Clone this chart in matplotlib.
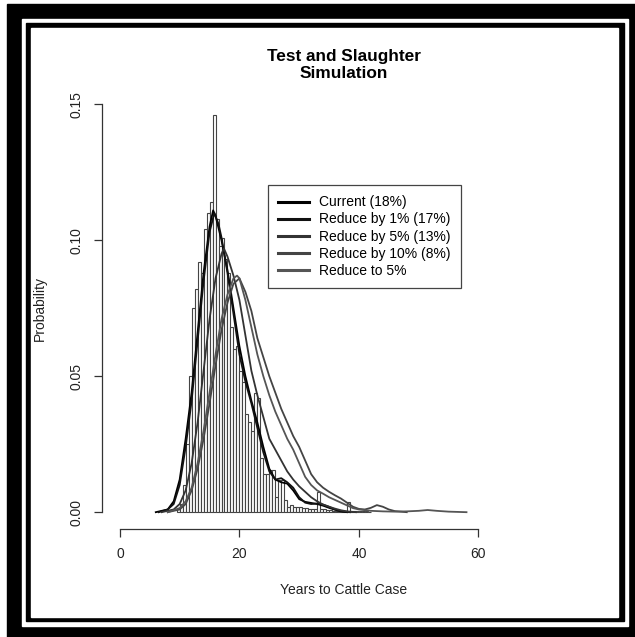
import matplotlib
matplotlib.use("Agg")
import matplotlib.pyplot as plt
from matplotlib.patches import Rectangle
import numpy as np

plt.rcParams['font.family'] = ['Liberation Sans', 'DejaVu Sans']

# histogram (bin width 0.5 years, density)
bin_left = np.arange(9.5, 42.0, 0.5)
bin_height = [0.001, 0.003, 0.010, 0.025, 0.050,
              0.075, 0.082, 0.092, 0.088, 0.104, 0.110, 0.114, 0.146,
              0.108, 0.098, 0.101, 0.093, 0.088, 0.068, 0.060, 0.061,
              0.052, 0.048, 0.036, 0.033, 0.030, 0.044, 0.042, 0.020,
              0.014, 0.014, 0.0155, 0.0155, 0.0055, 0.0118, 0.0118, 0.0044,
              0.002, 0.0025, 0.002, 0.0018, 0.002, 0.0015, 0.0015, 0.001,
              0.0012, 0.001, 0.0074, 0.001, 0.001, 0.0008, 0.0008, 0.0006,
              0.0006, 0.0005, 0.0005, 0.0005, 0.0037, 0.0005, 0.0005, 0.0004,
              0.0004, 0.0003, 0.0003, 0.0002][:len(bin_left)]

# density curves
cur_x = [6, 8, 9, 10, 11, 12, 13, 14, 15, 15.6, 16, 17, 18, 19, 20, 21, 22, 23, 24,
         25, 26, 27, 28, 29, 30, 31, 32, 33, 34, 35, 36, 37, 38]
cur_y = [0, 0.001, 0.004, 0.012, 0.027, 0.044, 0.066, 0.088, 0.105, 0.111, 0.109,
         0.100, 0.089, 0.075, 0.061, 0.050, 0.041, 0.033, 0.024, 0.016, 0.012, 0.011,
         0.0105, 0.008, 0.0048, 0.0038, 0.0034, 0.003, 0.0024, 0.0016, 0.0009, 0.0003, 0]

r1_x = [6.5, 8, 9, 10, 11, 12, 13, 14, 15, 15.8, 16.5, 17, 18, 19, 20, 21, 22, 23, 24,
        25, 26, 27, 28, 29, 30, 31, 32, 33, 34, 35, 36, 37, 38.5]
r1_y = [0, 0.001, 0.003, 0.010, 0.024, 0.041, 0.063, 0.085, 0.103, 0.110, 0.106,
        0.101, 0.088, 0.073, 0.058, 0.048, 0.040, 0.031, 0.022, 0.015, 0.012, 0.0125,
        0.011, 0.009, 0.0055, 0.0035, 0.003, 0.0032, 0.0028, 0.002, 0.001, 0.0004, 0]

r5_x = [7, 9, 10, 11, 12, 13, 14, 15, 16, 17, 17.4, 18, 19, 20, 21, 22, 23, 24, 25,
        26, 27, 28, 29, 30, 31, 32, 33, 34, 35, 36, 37, 38, 39.5]
r5_y = [0, 0.001, 0.003, 0.008, 0.018, 0.033, 0.052, 0.071, 0.086, 0.095, 0.097,
        0.094, 0.087, 0.078, 0.065, 0.052, 0.043, 0.035, 0.027, 0.023, 0.019, 0.015,
        0.012, 0.0095, 0.0075, 0.0055, 0.004, 0.0028, 0.002, 0.0013, 0.0007, 0.0003, 0]

r10_x = [8, 10, 11, 12, 13, 14, 15, 16, 17, 18, 19, 20, 21, 22, 23, 24, 25, 26, 27,
         28, 29, 30, 31, 32, 33, 34, 35, 36, 37, 38, 39, 40, 41, 42, 43, 44, 45, 46, 48]
r10_y = [0, 0.001, 0.003, 0.008, 0.016, 0.027, 0.040, 0.054, 0.067, 0.077, 0.084,
         0.086, 0.081, 0.074, 0.064, 0.057, 0.050, 0.044, 0.038, 0.033, 0.028, 0.024,
         0.019, 0.014, 0.011, 0.009, 0.0075, 0.0062, 0.005, 0.0035, 0.002, 0.0012,
         0.001, 0.0016, 0.0026, 0.002, 0.001, 0.0004, 0]

to5_x = [8, 10, 11, 12, 13, 14, 15, 16, 17, 18, 19, 19.6, 20, 21, 22, 23, 24, 25, 26,
         27, 28, 29, 30, 31, 32, 33, 34, 35, 36, 37, 38, 39, 40, 42, 44, 46, 48, 50,
         51.5, 53, 55, 58]
to5_y = [0, 0.0015, 0.004, 0.009, 0.018, 0.030, 0.044, 0.058, 0.071, 0.080, 0.086,
         0.087, 0.086, 0.078, 0.068, 0.058, 0.050, 0.043, 0.037, 0.032, 0.027, 0.023,
         0.018, 0.013, 0.010, 0.008, 0.0068, 0.0055, 0.0045, 0.0035, 0.0025, 0.0015,
         0.001, 0.0005, 0.0003, 0.0002, 0.0003, 0.0005, 0.0008, 0.0005, 0.0002, 0]

labels = ['Current (18%)', 'Reduce by 1% (17%)', 'Reduce by 5% (13%)',
          'Reduce by 10% (8%)', 'Reduce to 5%']
colors = ['#000000', '#111111', '#333333', '#444444', '#555555']

W, H = 635, 637
fig = plt.figure(figsize=(W / 100, H / 100), dpi=100)

def frac(x0, y0, x1, y1):
    # pixel box (top-left origin) -> figure fraction rect
    return (x0 / W, 1 - y1 / H), (x1 - x0) / W, (y1 - y0) / H

for (x0, y0, x1, y1), c in [((7, 4, 635, 637), 'black'), ((22, 19, 628, 626), 'white'),
                            ((26, 23, 624, 621), 'black'), ((31, 28, 618, 617), 'white')]:
    xy, w, h = frac(x0, y0, x1, y1)
    fig.add_artist(Rectangle(xy, w, h, transform=fig.transFigure, color=c, zorder=0))

xy, w, h = frac(102, 88, 586, 528.5)
ax = fig.add_axes([xy[0], xy[1], w, h])
ax.patch.set_alpha(0)

ax.bar(bin_left, bin_height, width=0.5, align='edge', color='white',
       edgecolor='#444444', linewidth=0.8)

handles = []
for xs, ys, c, lab in zip([cur_x, r1_x, r5_x, r10_x, to5_x],
                          [cur_y, r1_y, r5_y, r10_y, to5_y], colors, labels):
    h_, = ax.plot(xs, ys, color=c, lw=1.3, label=lab)
    handles.append(h_)

ax.set_xlim(-3, 78)
ax.set_ylim(-0.006, 0.156)
for s in ['top', 'right']:
    ax.spines[s].set_visible(False)
ax.spines['left'].set_bounds(0, 0.15)
ax.spines['bottom'].set_bounds(0, 60)
for s in ['left', 'bottom']:
    ax.spines[s].set_color('#333333')
    ax.spines[s].set_linewidth(0.9)
ax.set_xticks([0, 20, 40, 60])
ax.set_yticks([0, 0.05, 0.10, 0.15])
ax.set_yticklabels(['0.00', '0.05', '0.10', '0.15'], rotation=90, va='center')
ax.tick_params(length=5.5, width=0.9, color='#333333', labelsize=10,
               labelcolor='#222222', pad=8)

ax.set_xlabel('Years to Cattle Case', fontsize=10, color='#222222', labelpad=16)
ax.set_ylabel('Probability', fontsize=10, color='#222222', labelpad=16)

fig.text(344 / W, 1 - 65 / H, 'Test and Slaughter\nSimulation', ha='center', va='center',
         fontsize=12.4, fontweight='bold', linespacing=1.15)

leg = ax.legend(handles=handles, loc='upper left',
                bbox_to_anchor=(268 / W, 1 - 185 / H), bbox_transform=fig.transFigure,
                borderaxespad=0, fancybox=False, edgecolor='#444444', fontsize=10,
                handlelength=2.2, handletextpad=0.7, labelspacing=0.22, borderpad=0.75,
                framealpha=1)
leg.get_frame().set_linewidth(0.9)
for line in leg.get_lines():
    line.set_linewidth(2.2)

fig.savefig('out.png', dpi=100)
